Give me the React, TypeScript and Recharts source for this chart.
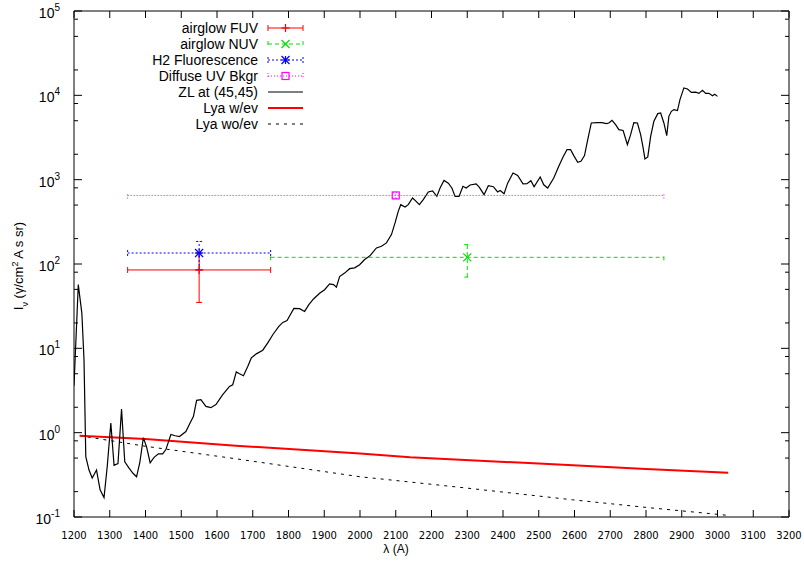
import React from "react";
import { ComposedChart, Line, Scatter, ErrorBar, XAxis, YAxis, Legend } from "recharts";

// axis ticks
const xTicks = [1200, 1300, 1400, 1500, 1600, 1700, 1800, 1900, 2000, 2100, 2200, 2300, 2400, 2500, 2600, 2700, 2800, 2900, 3000, 3100, 3200];
const yDecades = [0.1, 1, 10, 100, 1000, 10000, 100000];
const yMinorSteps = [2, 5, 8];
const yTicks = [
  ...yDecades,
  ...yDecades.slice(0, -1).flatMap((d) => yMinorSteps.map((m) => +(d * m).toPrecision(3))),
].sort((a, b) => a - b);

// zodiacal light spectrum at (45,45)
const zlWave = [
  1200, 1212, 1222, 1228, 1233, 1242, 1251, 1263, 1273, 1284, 1293, 1303, 1312, 1323, 1333, 1342, 1354, 1365, 1375, 1384,
  1394, 1403, 1413, 1424, 1436, 1448, 1457, 1471, 1483, 1495, 1513, 1525, 1534, 1543, 1555, 1569, 1583, 1597, 1616, 1635,
  1644, 1654, 1663, 1674, 1686, 1696, 1710, 1728, 1742, 1756, 1773, 1784, 1796, 1805, 1815, 1831, 1845, 1857, 1870, 1887,
  1901, 1915, 1926, 1934, 1943, 1957, 1971, 1985, 1999, 2013, 2027, 2046, 2060, 2074, 2088, 2098, 2107, 2114, 2126, 2135,
  2147, 2157, 2166, 2177, 2191, 2203, 2215, 2224, 2235, 2247, 2257, 2266, 2277, 2288, 2297, 2308, 2325, 2334, 2347, 2359,
  2373, 2385, 2392, 2403, 2413, 2428, 2441, 2456, 2467, 2478, 2487, 2504, 2514, 2525, 2542, 2556, 2568, 2579, 2589, 2598,
  2609, 2618, 2628, 2637, 2647, 2663, 2677, 2689, 2696, 2705, 2715, 2724, 2736, 2748, 2757, 2766, 2776, 2785, 2792, 2797,
  2805, 2813, 2822, 2833, 2841, 2850, 2858, 2864, 2871, 2878, 2888, 2895, 2906, 2916, 2927, 2939, 2948, 2958, 2967, 2976,
  2986, 2992, 3000,
];
const zlFlux = [
  3.6, 57, 26, 7.3, 0.52, 0.36, 0.29, 0.36, 0.21, 0.17, 0.4, 1.3, 0.41, 0.43, 1.9, 0.45, 0.38, 0.33, 0.3, 0.44,
  0.87, 0.68, 0.44, 0.51, 0.56, 0.56, 0.63, 0.95, 0.92, 0.9, 1.03, 1.31, 1.55, 2.42, 2.46, 2.05, 1.98, 2.15, 2.82, 3.54,
  3.7, 5.25, 5.0, 4.74, 6.1, 7.7, 8.6, 9.5, 11.6, 14.5, 18.2, 20.3, 21.3, 25, 29.8, 29.5, 27.4, 33, 38.5, 45,
  49.6, 58, 57, 53, 71, 78, 88, 90, 98, 113, 124, 155, 162, 178, 223, 307, 421, 505, 475, 505,
  607, 553, 505, 580, 715, 735, 634, 797, 980, 910, 797, 634, 634, 835, 797, 865, 890, 811, 664, 849,
  825, 715, 745, 680, 910, 1200, 1125, 890, 895, 973, 825, 1076, 870, 797, 1047, 1438, 1860, 2270, 2270, 1930,
  1603, 1650, 1930, 2980, 4700, 4750, 4750, 4610, 4700, 5050, 4490, 3915, 3830, 2600, 3420, 4750, 4700, 3420, 2380, 1760,
  1860, 3265, 4920, 6070, 6180, 4700, 3325, 5640, 6460, 6770, 6590, 8890, 12240, 11900, 10840, 10900, 10560, 11460, 10560, 10560,
  9910, 10300, 9720,
];

// Lyman alpha curves
const lyaEvWave = [1216, 1400, 1653, 2000, 2140, 2500, 2800, 3030];
const lyaEvFlux = [0.92, 0.84, 0.7, 0.565, 0.51, 0.43, 0.37, 0.335];
const lyaNoEvWave = [1216, 1400, 1653, 2000, 2140, 2300, 2594, 2800, 3035];
const lyaNoEvFlux = [0.92, 0.69, 0.49, 0.3, 0.26, 0.22, 0.16, 0.13, 0.104];

// band estimates with error bars
const airglowFUV = [{ wave: 1550, flux: 85, dWave: 200, dFlux: 50 }];
const airglowNUV = [{ wave: 2300, flux: 120, dWave: 550, dFlux: 50 }];
const h2Fluor = [{ wave: 1550, flux: 135, dWave: 200, dFlux: 50 }];
const diffuseUV = [{ wave: 2100, flux: 650, dWave: 750, dFlux: 50 }];

const zlData = zlWave.map((wave, i) => ({ wave, flux: zlFlux[i] }));
const lyaEvData = lyaEvWave.map((wave, i) => ({ wave, flux: lyaEvFlux[i] }));
const lyaNoEvData = lyaNoEvWave.map((wave, i) => ({ wave, flux: lyaNoEvFlux[i] }));

const RED = "#ff0000";
const GREEN = "#00e000";
const BLUE = "#0000ff";
const MAGENTA = "#ff00ff";
const SANS = "'Liberation Sans', Arial, Helvetica, sans-serif";

type MarkKind = "plus" | "cross" | "star" | "box";

function Marker({ kind, cx, cy, color }: { kind: MarkKind; cx: number; cy: number; color: string }) {
  const s = 4;
  const plus = (
    <>
      <line x1={cx - s} x2={cx + s} y1={cy} y2={cy} />
      <line x1={cx} x2={cx} y1={cy - s} y2={cy + s} />
    </>
  );
  const cross = (
    <>
      <line x1={cx - s} x2={cx + s} y1={cy - s} y2={cy + s} />
      <line x1={cx - s} x2={cx + s} y1={cy + s} y2={cy - s} />
    </>
  );
  return (
    <g stroke={color} strokeWidth={1.2} fill="none">
      {kind === "plus" && plus}
      {kind === "cross" && cross}
      {kind === "star" && (
        <>
          {plus}
          {cross}
        </>
      )}
      {kind === "box" && <rect x={cx - 3.5} y={cy - 3.5} width={7} height={7} />}
    </g>
  );
}

const markShape = (kind: MarkKind, color: string) => (p: any) => (
  <Marker kind={kind} cx={p.cx} cy={p.cy} color={color} />
);

function BottomTick({ x, y, payload }: any) {
  return (
    <g>
      <line x1={x} x2={x} y1={y} y2={y - 7} stroke="#000" />
      <text x={x} y={y + 22} textAnchor="middle" fontSize={10} fontFamily="'DejaVu Sans', sans-serif" fill="#000">
        {payload.value}
      </text>
    </g>
  );
}

function TopTick({ x, y }: any) {
  return <line x1={x} x2={x} y1={y} y2={y + 7} stroke="#000" />;
}

function isMajor(v: number) {
  const l = Math.log10(v);
  return Math.abs(l - Math.round(l)) < 1e-6;
}

function LeftTick({ x, y, payload }: any) {
  const v = payload.value;
  const major = isMajor(v);
  return (
    <g>
      <line x1={x} x2={x + (major ? 8 : 4)} y1={y} y2={y} stroke="#000" />
      {major && (
        <text x={x - 14} y={y + 7} textAnchor="end" fontSize={14} fontFamily={SANS} fill="#000">
          10
          <tspan dy={-7} fontSize={10}>
            {Math.round(Math.log10(v))}
          </tspan>
        </text>
      )}
    </g>
  );
}

function RightTick({ x, y, payload }: any) {
  const major = isMajor(payload.value);
  return <line x1={x} x2={x - (major ? 8 : 4)} y1={y} y2={y} stroke="#000" />;
}

const XLabel = () => (
  <text x={396} y={553} textAnchor="middle" fontSize={12} fontFamily={SANS} fill="#000">
    λ (A)
  </text>
);

const YLabel = () => (
  <text transform="rotate(-90)" x={-266} y={23} textAnchor="middle" fontSize={13} fontFamily={SANS} fill="#000">
    I<tspan baselineShift="sub" fontSize={9}>ν</tspan>
    <tspan> (γ/cm</tspan>
    <tspan baselineShift="super" fontSize={9}>2</tspan>
    <tspan> A s sr)</tspan>
  </text>
);

type LegendRow = {
  label: string;
  color: string;
  dash?: string;
  width?: number;
  mark?: MarkKind;
};

const legendRows: LegendRow[] = [
  { label: "airglow FUV", color: RED, mark: "plus" },
  { label: "airglow NUV", color: GREEN, dash: "4 3", mark: "cross" },
  { label: "H2 Fluorescence", color: BLUE, dash: "2 2", mark: "star" },
  { label: "Diffuse UV Bkgr", color: MAGENTA, dash: "1 2", mark: "box" },
  { label: "ZL at (45,45)", color: "#000" },
  { label: "Lya w/ev", color: RED, width: 2 },
  { label: "Lya wo/ev", color: "#000", dash: "3 5" },
];

function LegendBox() {
  const x0 = 268;
  const x1 = 303;
  return (
    <svg width={320} height={140} style={{ display: "block" }}>
      {legendRows.map((r, i) => {
        const y = 28 + i * 16;
        return (
          <g key={r.label}>
            <text x={258} y={y + 5} textAnchor="end" fontSize={14} fontFamily={SANS} fill="#000">
              {r.label}
            </text>
            <line x1={x0} x2={x1} y1={y} y2={y} stroke={r.color} strokeWidth={r.width ?? 1} strokeDasharray={r.dash} />
            {r.mark && (
              <>
                <line x1={x0} x2={x0} y1={y - 3} y2={y + 3} stroke={r.color} strokeDasharray={r.dash} />
                <line x1={x1} x2={x1} y1={y - 3} y2={y + 3} stroke={r.color} strokeDasharray={r.dash} />
                <Marker kind={r.mark} cx={(x0 + x1) / 2} cy={y} color={r.color} />
              </>
            )}
          </g>
        );
      })}
    </svg>
  );
}

export default function App() {
  const errBars = (color: string, dash?: string) => [
    <ErrorBar key="x" dataKey="dWave" direction="x" width={3} stroke={color} strokeWidth={1} strokeDasharray={dash} isAnimationActive={false} />,
    <ErrorBar key="y" dataKey="dFlux" direction="y" width={3} stroke={color} strokeWidth={1} strokeDasharray={dash} isAnimationActive={false} />,
  ];
  return (
    <div style={{ position: "absolute", left: 0, top: 0, width: 804, height: 567, background: "#fff" }}>
      <ComposedChart width={804} height={567} margin={{ top: 10, right: 14, bottom: 49, left: 73 }}>
        <XAxis
          type="number"
          dataKey="wave"
          domain={[1200, 3200]}
          ticks={xTicks}
          interval={0}
          height={1}
          tickSize={0}
          tickMargin={0}
          tickLine={false}
          tick={<BottomTick />}
          axisLine={{ stroke: "#000" }}
          allowDataOverflow
          label={XLabel}
        />
        <XAxis
          xAxisId="top"
          orientation="top"
          type="number"
          dataKey="wave"
          domain={[1200, 3200]}
          ticks={xTicks}
          interval={0}
          height={1}
          tickSize={0}
          tickMargin={0}
          tickLine={false}
          tick={<TopTick />}
          axisLine={{ stroke: "#000" }}
          allowDataOverflow
        />
        <YAxis
          type="number"
          scale="log"
          domain={[0.1, 100000]}
          ticks={yTicks}
          interval={0}
          width={1}
          tickSize={0}
          tickMargin={0}
          tickLine={false}
          tick={<LeftTick />}
          axisLine={{ stroke: "#000" }}
          allowDataOverflow
          label={YLabel}
        />
        <YAxis
          yAxisId="right"
          orientation="right"
          type="number"
          scale="log"
          domain={[0.1, 100000]}
          ticks={yTicks}
          interval={0}
          width={1}
          tickSize={0}
          tickMargin={0}
          tickLine={false}
          tick={<RightTick />}
          axisLine={{ stroke: "#000" }}
          allowDataOverflow
        />
        <Legend
          layout="vertical"
          align="center"
          verticalAlign="middle"
          wrapperStyle={{ position: "absolute", left: 0, top: 0, width: 320, height: 140 }}
          content={() => <LegendBox />}
        />
        <Line data={lyaNoEvData} dataKey="flux" stroke="#000" strokeWidth={1} strokeDasharray="3 5" dot={false} activeDot={false} isAnimationActive={false} />
        <Line data={lyaEvData} dataKey="flux" stroke={RED} strokeWidth={2} dot={false} activeDot={false} isAnimationActive={false} />
        <Line data={zlData} dataKey="flux" stroke="#000" strokeWidth={1.2} dot={false} activeDot={false} isAnimationActive={false} />
        <Scatter data={diffuseUV} dataKey="flux" shape={markShape("box", MAGENTA)} isAnimationActive={false}>
          {errBars(MAGENTA, "1 2")}
        </Scatter>
        <Scatter data={airglowNUV} dataKey="flux" shape={markShape("cross", GREEN)} isAnimationActive={false}>
          {errBars(GREEN, "4 3")}
        </Scatter>
        <Scatter data={airglowFUV} dataKey="flux" shape={markShape("plus", RED)} isAnimationActive={false}>
          {errBars(RED)}
        </Scatter>
        <Scatter data={h2Fluor} dataKey="flux" shape={markShape("star", BLUE)} isAnimationActive={false}>
          {errBars(BLUE, "2 2")}
        </Scatter>
      </ComposedChart>
    </div>
  );
}
